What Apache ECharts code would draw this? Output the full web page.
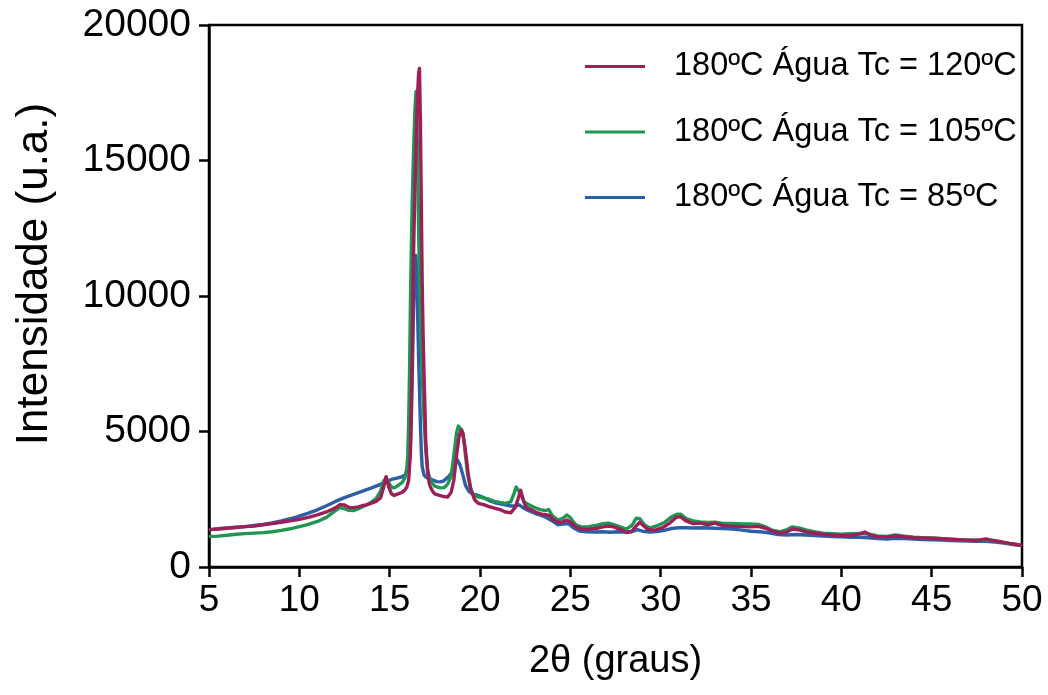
<!DOCTYPE html>
<html>
<head>
<meta charset="utf-8">
<script src="https://cdn.jsdelivr.net/npm/echarts@6/dist/echarts.min.js"></script>
<style>
  html, body { margin: 0; padding: 0; background: #fff; }
  #chart { width: 1048px; height: 695px; }
</style>
</head>
<body>
<div id="chart"></div>
<script>
// XRD patterns: [2θ (graus), intensidade (u.a.)]
const seriesNames = ['180ºC Água Tc = 120ºC', '180ºC Água Tc = 105ºC', '180ºC Água Tc = 85ºC'];
const xTicks = { min: 5, max: 50, step: 5 };
const yTicks = { min: 0, max: 20000, step: 5000 };

const tc120 = [
  [5,1380],[5.5,1400],[6,1430],[6.5,1460],[7,1490],[7.5,1510],[8,1560],[8.5,1600],[9,1650],[9.5,1700],
  [10,1760],[10.5,1830],[11,1920],[11.5,2030],[12,2180],[12.25,2300],[12.5,2290],[12.75,2200],[13,2190],
  [13.25,2220],[13.5,2260],[13.75,2300],[14,2360],[14.25,2420],[14.5,2560],[14.65,2900],[14.8,3330],
  [14.95,2950],[15.1,2700],[15.25,2640],[15.4,2680],[15.55,2720],[15.7,2760],[15.85,2850],[15.95,2950],
  [16.05,3200],[16.15,4200],[16.25,8000],[16.3,10800],[16.35,12500],[16.4,14000],[16.45,15300],[16.5,16500],
  [16.55,17500],[16.6,18200],[16.65,18400],[16.7,16500],[16.75,13500],[16.8,10500],[16.85,8600],[16.9,7200],
  [17,4600],[17.1,3500],[17.2,3050],[17.35,2820],[17.5,2700],[17.75,2640],[18,2600],[18.2,2580],[18.4,2750],
  [18.55,3200],[18.7,4100],[18.85,4850],[18.95,5050],[19.05,4950],[19.15,4500],[19.25,4000],[19.35,3400],
  [19.5,2850],[19.7,2480],[19.9,2350],[20.2,2300],[20.5,2230],[20.8,2170],[21.1,2120],[21.4,2030],[21.7,2000],
  [21.95,2200],[22.1,2500],[22.25,2830],[22.4,2450],[22.55,2200],[22.8,2120],[23.1,2020],[23.4,1950],[23.7,1920],
  [23.9,1880],[24.1,1720],[24.3,1660],[24.5,1640],[24.8,1730],[25,1660],[25.3,1480],[25.6,1400],[26,1390],
  [26.4,1420],[26.8,1480],[27.1,1510],[27.4,1480],[27.8,1380],[28.1,1270],[28.4,1320],[28.65,1520],[28.85,1650],
  [29.05,1520],[29.3,1380],[29.7,1360],[30.1,1450],[30.5,1620],[30.85,1830],[31.1,1860],[31.4,1700],[31.8,1600],
  [32.2,1620],[32.6,1560],[33,1620],[33.4,1540],[33.8,1510],[34.2,1500],[34.6,1490],[35,1480],[35.4,1500],
  [35.8,1430],[36.2,1320],[36.6,1250],[37,1300],[37.3,1400],[37.7,1360],[38.1,1290],[38.6,1240],[39,1210],
  [39.5,1180],[40,1160],[40.5,1160],[41,1220],[41.3,1290],[41.6,1180],[42,1110],[42.5,1110],[43,1150],
  [43.5,1110],[44,1080],[44.5,1070],[45,1060],[45.5,1040],[46,1030],[46.5,1010],[47,990],[47.5,980],
  [48,1040],[48.3,990],[48.8,930],[49.3,870],[49.7,830],[50,800]
];

const tc105 = [
  [5,1120],[5.5,1140],[6,1170],[6.5,1210],[7,1230],[7.5,1250],[8,1270],[8.5,1300],[9,1350],[9.5,1410],
  [10,1490],[10.5,1570],[11,1680],[11.5,1830],[12,2080],[12.25,2190],[12.5,2150],[12.75,2090],[13,2080],
  [13.25,2140],[13.5,2220],[13.75,2300],[14,2400],[14.25,2520],[14.5,2800],[14.65,3150],[14.8,3280],
  [14.95,3100],[15.1,2950],[15.25,2920],[15.4,2980],[15.55,3050],[15.7,3120],[15.85,3300],[15.95,3650],
  [16,4100],[16.05,5300],[16.1,7200],[16.15,9800],[16.2,11800],[16.25,13500],[16.3,14800],[16.35,15900],
  [16.4,16900],[16.46,17550],[16.5,16800],[16.55,14800],[16.6,12500],[16.65,10800],[16.7,9400],[16.75,8100],
  [16.8,7100],[16.9,5500],[17,4300],[17.1,3600],[17.2,3320],[17.35,3100],[17.5,2980],[17.75,2930],[18,2920],
  [18.2,3050],[18.4,3350],[18.55,4100],[18.7,4950],[18.8,5200],[18.9,5150],[19,5050],[19.1,4700],[19.2,4100],
  [19.3,3500],[19.45,2950],[19.6,2700],[19.8,2600],[20.1,2560],[20.5,2500],[20.8,2420],[21.1,2380],[21.4,2350],
  [21.7,2400],[21.85,2650],[22,2950],[22.1,3020],[22.25,2700],[22.45,2400],[22.7,2300],[23,2200],[23.3,2130],
  [23.6,2080],[23.8,2120],[24,1900],[24.3,1730],[24.6,1800],[24.8,1920],[25,1820],[25.3,1560],[25.6,1480],
  [26,1490],[26.4,1530],[26.8,1600],[27.1,1620],[27.4,1560],[27.8,1470],[28.1,1400],[28.4,1530],[28.65,1800],
  [28.85,1780],[29.1,1560],[29.4,1440],[29.8,1520],[30.2,1640],[30.6,1850],[30.9,1950],[31.1,1950],[31.4,1790],
  [31.8,1700],[32.2,1660],[32.6,1640],[33,1650],[33.4,1620],[33.8,1610],[34.2,1600],[34.6,1590],[35,1590],
  [35.4,1570],[35.8,1480],[36.2,1350],[36.6,1300],[37,1380],[37.3,1480],[37.7,1430],[38.1,1360],[38.6,1290],
  [39,1250],[39.5,1230],[40,1210],[40.5,1230],[41,1240],[41.5,1220],[42,1150],[42.5,1130],[43,1180],
  [43.5,1140],[44,1100],[44.5,1080],[45,1070],[45.5,1050],[46,1030],[46.5,1010],[47,1000],[47.5,990],
  [48,1010],[48.5,970],[49,900],[49.5,850],[50,800]
];

const tc85 = [
  [5,1370],[5.5,1410],[6,1440],[6.5,1470],[7,1490],[7.5,1530],[8,1570],[8.5,1630],[9,1700],[9.5,1780],
  [10,1880],[10.5,1990],[11,2110],[11.5,2260],[12,2420],[12.5,2560],[13,2680],[13.5,2800],[14,2920],
  [14.5,3050],[14.8,3150],[15.1,3230],[15.4,3280],[15.7,3330],[15.85,3400],[16,3620],[16.1,4000],[16.15,4500],
  [16.2,5500],[16.25,7000],[16.3,8800],[16.35,10300],[16.4,11300],[16.45,11500],[16.5,10800],[16.55,9300],
  [16.6,7800],[16.65,6600],[16.7,5300],[16.75,4300],[16.8,3700],[16.9,3400],[17,3320],[17.2,3250],[17.4,3210],
  [17.6,3150],[17.8,3140],[18,3180],[18.2,3300],[18.4,3450],[18.6,3800],[18.75,3950],[18.9,3750],[19.05,3400],
  [19.2,3000],[19.4,2780],[19.6,2690],[19.8,2660],[20.1,2590],[20.5,2450],[20.8,2380],[21.1,2330],[21.4,2290],
  [21.7,2250],[22,2250],[22.15,2300],[22.4,2180],[22.7,2080],[23,1990],[23.3,1920],[23.6,1850],[24,1700],
  [24.3,1560],[24.6,1580],[24.9,1600],[25.2,1430],[25.5,1330],[25.9,1300],[26.3,1290],[26.8,1300],[27.2,1280],
  [27.6,1300],[28,1290],[28.4,1300],[28.7,1380],[29,1320],[29.4,1290],[29.8,1310],[30.2,1350],[30.6,1420],
  [31,1450],[31.4,1450],[31.8,1440],[32.2,1450],[32.6,1440],[33,1430],[33.5,1420],[34,1400],[34.5,1360],
  [35,1320],[35.5,1300],[36,1260],[36.5,1200],[37,1180],[37.5,1200],[38,1180],[38.5,1160],[39,1140],
  [39.5,1120],[40,1110],[40.5,1100],[41,1100],[41.5,1080],[42,1050],[42.5,1030],[43,1060],[43.5,1050],
  [44,1030],[44.5,1010],[45,1000],[45.5,990],[46,980],[46.5,970],[47,960],[47.5,950],[48,950],[48.5,920],
  [49,880],[49.5,830],[50,790]
];

const colors = { tc120: '#9c1f58', tc105: '#1f9652', tc85: '#2d5ea8' };
const FONT = '"Liberation Sans", Arial, Helvetica, sans-serif';

function lineSeries(name, data, color) {
  return {
    name: name,
    type: 'line',
    data: data,
    showSymbol: false,
    symbol: 'none',
    smooth: false,
    lineStyle: { width: 3.4, color: color, join: 'round' },
    itemStyle: { color: color },
    emphasis: { disabled: true },
    animation: false
  };
}

const chart = echarts.init(document.getElementById('chart'), null, { renderer: 'canvas' });
chart.setOption({
  backgroundColor: '#ffffff',
  animation: false,
  grid: {
    left: 209, right: 26, top: 25, bottom: 128,
    show: true, borderColor: '#000', borderWidth: 2.5, backgroundColor: 'transparent'
  },
  legend: {
    orient: 'vertical',
    left: 580, top: 45,
    data: seriesNames,
    icon: 'rect',
    itemWidth: 60, itemHeight: 3,
    itemGap: 32.5,
    textStyle: { fontFamily: FONT, fontSize: 32.5, color: '#000', padding: [0, 0, 0, 24] }
  },
  xAxis: {
    type: 'value',
    min: xTicks.min, max: xTicks.max, interval: xTicks.step,
    name: '2θ (graus)',
    nameLocation: 'middle', nameGap: 76,
    nameTextStyle: { fontFamily: FONT, fontSize: 38, color: '#000' },
    axisLine: { show: true, onZero: false, lineStyle: { color: '#000', width: 2.5 } },
    axisTick: { show: true, inside: false, length: 10, lineStyle: { color: '#000', width: 2.5 } },
    axisLabel: { margin: 15, fontFamily: FONT, fontSize: 37, color: '#000' },
    splitLine: { show: false }
  },
  yAxis: {
    type: 'value',
    min: yTicks.min, max: yTicks.max, interval: yTicks.step,
    name: 'Intensidade (u.a.)',
    nameLocation: 'middle', nameGap: 152, nameRotate: 90,
    nameTextStyle: { fontFamily: FONT, fontSize: 44, color: '#000', padding: [0, 0, 0, 44] },
    axisLine: { show: true, lineStyle: { color: '#000', width: 2.5 } },
    axisTick: { show: true, inside: false, length: 10, lineStyle: { color: '#000', width: 2.5 } },
    axisLabel: {
      margin: 18, fontFamily: FONT, fontSize: 39, color: '#000',
      formatter: function (v) { return String(v); }
    },
    splitLine: { show: false }
  },
  series: [
    lineSeries(seriesNames[2], tc85, colors.tc85),
    lineSeries(seriesNames[1], tc105, colors.tc105),
    lineSeries(seriesNames[0], tc120, colors.tc120)
  ]
});
</script>
</body>
</html>
